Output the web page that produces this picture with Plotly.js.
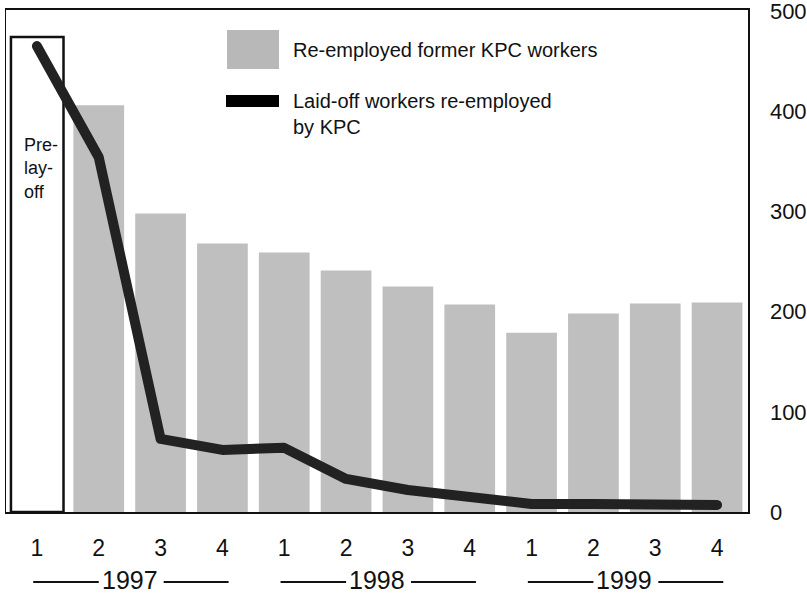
<!DOCTYPE html>
<html>
<head>
<meta charset="utf-8">
<script src="https://cdn.plot.ly/plotly-3.0.1.min.js"></script>
<style>
html,body{margin:0;padding:0;background:#fff;}
#chart{width:807px;height:595px;}
.scatterlayer .js-line{stroke-linecap:round;stroke-linejoin:round;}
</style>
</head>
<body>
<div id="chart"></div>
<script>
// ---- data ----
const quarters = ['1','2','3','4','1','2','3','4','1','2','3','4'];
const years = ['1997','1998','1999'];
const yTicks = [0, 100, 200, 300, 400, 500];
const reemployedFormer = [null, 406, 298, 268, 259, 241, 225, 207, 179, 198, 208, 209];
const laidOffReemployedByKPC = [465, 354, 73, 62, 64, 33, 22, 16, 8, 8, 8, 7];
const preLayoffLevel = 474;
const seriesNames = ['Re-employed former KPC workers', 'Laid-off workers re-employed<br>by KPC'];

// ---- layout helpers ----
const W = 807, H = 595;
const L = 6, R = 748, T = 10, B = 512;
const px = x => (x - L) / (R - L);
const py = y => (B - y) / (B - T);
const idx = quarters.map((q, i) => i);
const font = 'Liberation Sans, Arial, sans-serif';

const traces = [
  {type: 'bar', x: idx, y: reemployedFormer, name: seriesNames[0],
   marker: {color: '#bfbfbf', line: {width: 0}}, hoverinfo: 'skip'},
  {type: 'scatter', mode: 'lines', x: idx, y: laidOffReemployedByKPC, name: seriesNames[1],
   line: {color: '#222222', width: 10}, hoverinfo: 'skip'}
];

const shapes = [
  // pre-layoff box
  {type: 'rect', xref: 'x', yref: 'y', x0: -0.42, x1: 0.43, y0: 0, y1: preLayoffLevel,
   line: {color: '#111', width: 2.5}, fillcolor: 'rgba(0,0,0,0)', layer: 'below'},
  // legend swatches
  {type: 'rect', xref: 'paper', yref: 'paper', x0: px(227), x1: px(279), y0: py(69), y1: py(30),
   line: {width: 0}, fillcolor: '#b8b8b8'},
  {type: 'rect', xref: 'paper', yref: 'paper', x0: px(226), x1: px(279), y0: py(107), y1: py(95),
   line: {width: 0}, fillcolor: '#000'}
];

const annotations = [
  {xref: 'paper', yref: 'paper', x: px(291), y: py(50), xanchor: 'left', yanchor: 'middle',
   text: seriesNames[0], showarrow: false, font: {family: font, size: 20, color: '#111'}},
  {xref: 'paper', yref: 'paper', x: px(291), y: py(114), xanchor: 'left', yanchor: 'middle',
   text: seriesNames[1], showarrow: false, align: 'left',
   font: {family: font, size: 20, color: '#111'}},
  {xref: 'paper', yref: 'paper', x: px(22), y: py(168), xanchor: 'left', yanchor: 'middle',
   text: 'Pre-<br>lay-<br>off', showarrow: false, align: 'left',
   font: {family: font, size: 18, color: '#111'}}
];

years.forEach((yr, i) => {
  const c = 4 * i + 1.5;
  annotations.push({xref: 'x', yref: 'paper', x: c, y: py(580), xanchor: 'center', yanchor: 'middle',
    text: yr, showarrow: false, font: {family: font, size: 25, color: '#111'}});
  shapes.push({type: 'line', xref: 'x', yref: 'paper', x0: c - 1.56, x1: c - 0.5, y0: py(582), y1: py(582),
    line: {color: '#111', width: 2}});
  shapes.push({type: 'line', xref: 'x', yref: 'paper', x0: c + 0.55, x1: c + 1.6, y0: py(582), y1: py(582),
    line: {color: '#111', width: 2}});
});

const layout = {
  width: W, height: H,
  margin: {l: L, r: W - R, t: T, b: H - B, pad: 0},
  paper_bgcolor: '#fff', plot_bgcolor: '#fff',
  showlegend: false,
  bargap: 0.18,
  xaxis: {range: [-0.5, 11.5], tickvals: idx, ticktext: quarters, showgrid: false, zeroline: false,
    showline: true, mirror: true, linecolor: '#111', linewidth: 2, ticks: '',
    ticklabelstandoff: 14, tickfont: {family: font, size: 23, color: '#111'}, fixedrange: true},
  yaxis: {range: [0, 501], side: 'right', tickmode: 'array', tickvals: yTicks, showgrid: false, zeroline: false,
    showline: true, mirror: true, linecolor: '#111', linewidth: 1.5, ticks: '',
    ticklabeloverflow: 'allow',
    ticklabelstandoff: 16, tickfont: {family: font, size: 22, color: '#111'}, fixedrange: true},
  shapes: shapes,
  annotations: annotations
};

Plotly.newPlot('chart', traces, layout, {displayModeBar: false, staticPlot: true});
</script>
</body>
</html>
